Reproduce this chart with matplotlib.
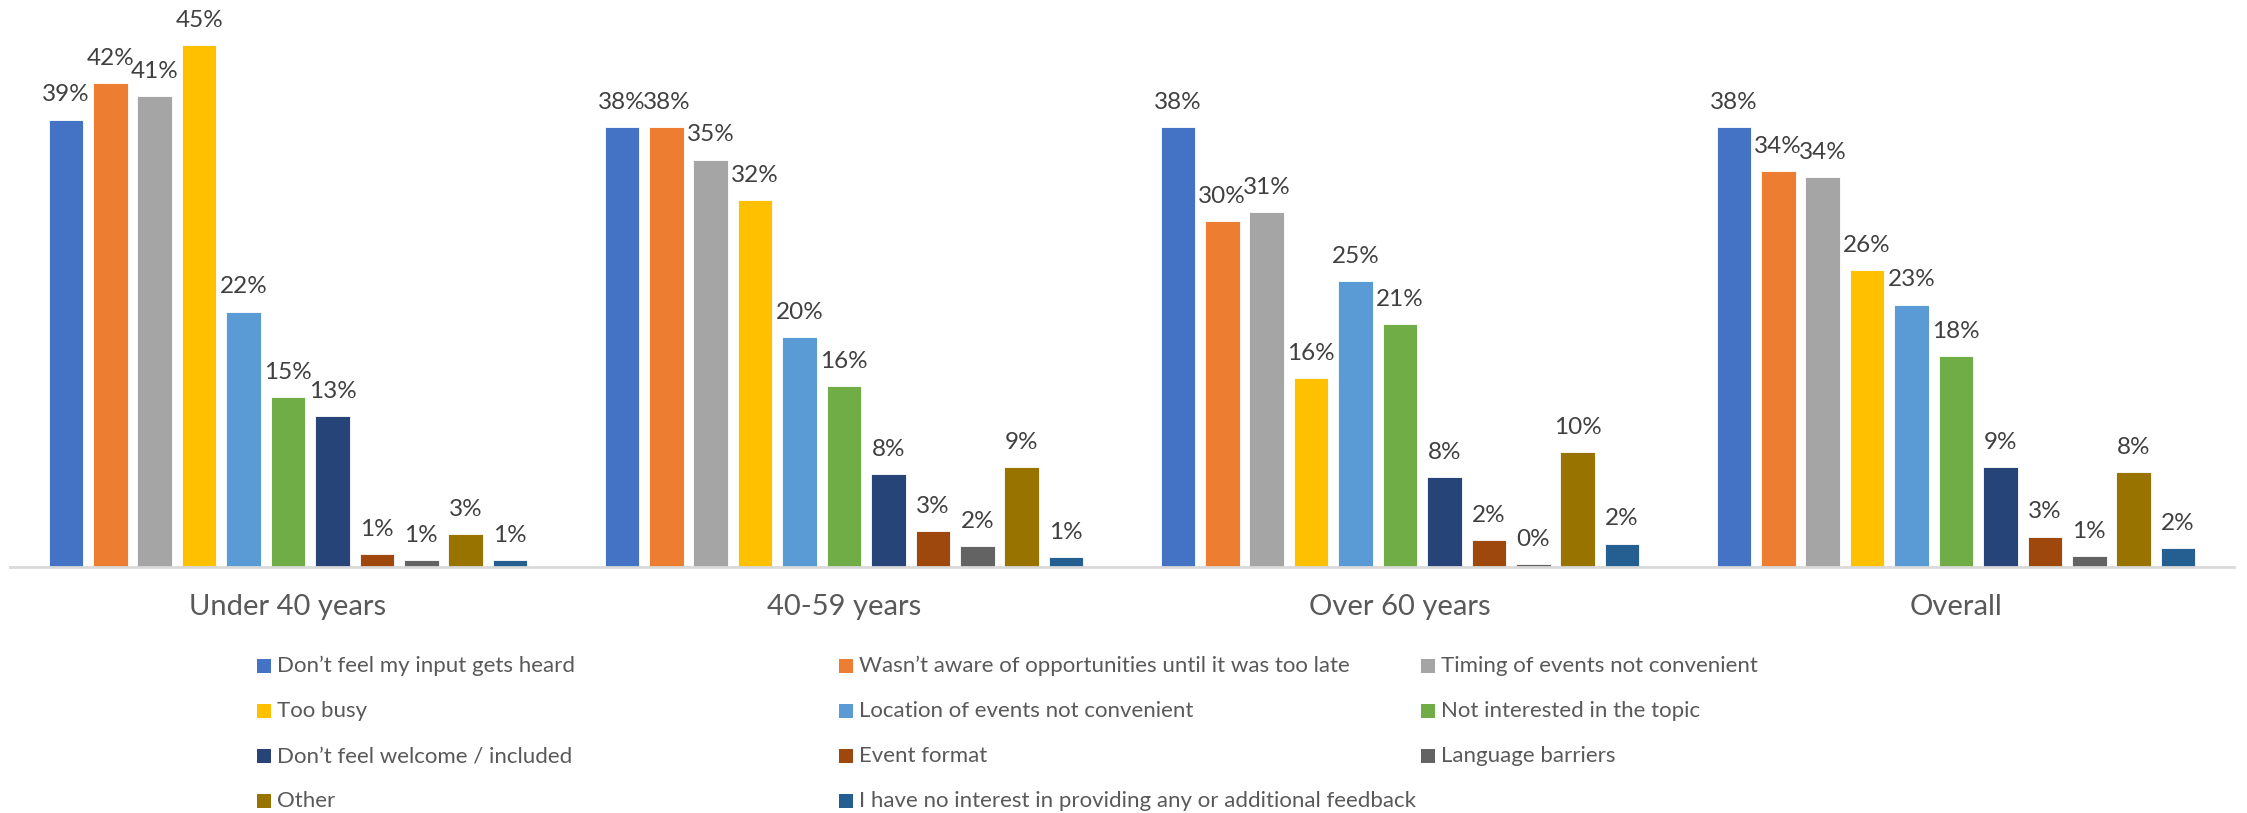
import matplotlib
matplotlib.use("Agg")
import matplotlib.pyplot as plt
from matplotlib.patches import Rectangle
import numpy as np

plt.rcParams['font.family'] = ['Lato', 'DejaVu Sans']

groups = ["Under 40 years", "40-59 years", "Over 60 years", "Overall"]

series_names = [
    "Don\u2019t feel my input gets heard",
    "Wasn\u2019t aware of opportunities until it was too late",
    "Timing of events not convenient",
    "Too busy",
    "Location of events not convenient",
    "Not interested in the topic",
    "Don\u2019t feel welcome / included",
    "Event format",
    "Language barriers",
    "Other",
    "I have no interest in providing any or additional feedback",
]

dont_heard = [38.55, 37.9, 37.9, 37.9]
wasnt_aware = [41.7, 37.9, 29.8, 34.1]
timing = [40.6, 35.1, 30.6, 33.6]
too_busy = [45.0, 31.6, 16.3, 25.6]
location = [22.0, 19.8, 24.6, 22.6]
not_interested = [14.6, 15.6, 20.9, 18.2]
not_welcome = [13.0, 8.0, 7.7, 8.6]
event_format = [1.1, 3.1, 2.3, 2.6]
language = [0.55, 1.8, 0.2, 0.9]
other = [2.8, 8.6, 9.9, 8.2]
no_interest = [0.55, 0.8, 2.0, 1.6]

series_values = [dont_heard, wasnt_aware, timing, too_busy, location,
                 not_interested, not_welcome, event_format, language,
                 other, no_interest]

colors = ["#4472C4", "#ED7D31", "#A5A5A5", "#FFC000", "#5B9BD5", "#70AD47",
          "#264478", "#9E480E", "#636363", "#997300", "#255E91"]

W, H = 2247, 813
fig = plt.figure(figsize=(W / 100, H / 100), dpi=100)

ax_left = 10 / W
ax_right = 2234 / W
base_y = 566.7
px_per_pct = 11.6
ymax = 48
ax_bottom = (H - base_y) / H
ax_height = ymax * px_per_pct / H
ax = fig.add_axes([ax_left, ax_bottom, ax_right - ax_left, ax_height])

slot = 0.0799
width = 0.0624
x = np.arange(len(groups))
n = len(series_names)
for i, (vals, c) in enumerate(zip(series_values, colors)):
    xpos = x + (i - (n - 1) / 2) * slot
    ax.bar(xpos, vals, width=width, color=c, edgecolor='white',
           linewidth=0.6, zorder=2)
    for xb, v in zip(xpos, vals):
        ax.annotate(f"{v:.0f}%", (xb, v), xytext=(0, 13), textcoords='offset points',
                    ha='center', va='baseline', fontsize=17.5, color='#404040')

ax.set_xlim(-0.5, len(groups) - 0.5)
ax.set_ylim(0, ymax)
for s in ['top', 'right', 'left']:
    ax.spines[s].set_visible(False)
ax.spines['bottom'].set_color('#D9D9D9')
ax.spines['bottom'].set_linewidth(2)
ax.spines['bottom'].set_zorder(3)
ax.set_yticks([])
ax.set_xticks(x)
ax.set_xticklabels(groups, fontsize=21, color='#595959')
ax.tick_params(axis='x', length=0, pad=20)

# Legend (3 columns, row-major)
col_x = [257, 839, 1421]
row_y = [666, 711, 756, 801]
sq = 14
for i, (name, c) in enumerate(zip(series_names, colors)):
    col = i % 3
    row = i // 3
    px = col_x[col]
    py = row_y[row]
    fig.add_artist(Rectangle((px / W, (H - py - sq / 2) / H), sq / W, sq / H,
                             transform=fig.transFigure, facecolor=c,
                             edgecolor='none'))
    fig.text((px + 20) / W, (H - py) / H, name, fontsize=16, color='#595959',
             ha='left', va='center')

fig.savefig("out.png", dpi=100)
